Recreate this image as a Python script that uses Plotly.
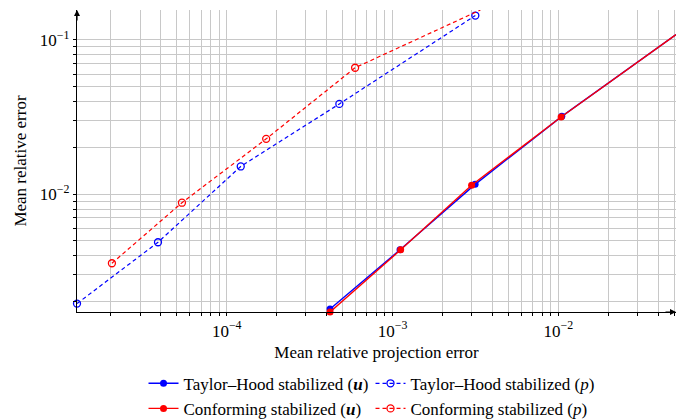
import plotly.graph_objects as go
import numpy as np

# Data (log-log)
th_u_x = [4.2e-4, 1.11e-3, 3.15e-3, 1.05e-2, 5.13e-2]
th_u_y = [1.80e-3, 4.35e-3, 1.156e-2, 3.19e-2, 0.108]
cf_u_x = [4.2e-4, 1.12e-3, 3.0e-3, 1.04e-2, 5.13e-2]
cf_u_y = [1.72e-3, 4.35e-3, 1.14e-2, 3.16e-2, 0.108]
th_p_x = [1.25e-5, 3.85e-5, 1.215e-4, 4.78e-4, 3.16e-3]
th_p_y = [1.95e-3, 4.87e-3, 1.51e-2, 3.84e-2, 0.1436]
cf_p_x = [2.03e-5, 5.37e-5, 1.73e-4, 5.95e-4, 3.39e-3]
cf_p_y = [3.56e-3, 8.79e-3, 2.28e-2, 6.59e-2, 0.156]

names = ["Taylor–Hood stabilized (<b><i>u</i></b>)",
         "Taylor–Hood stabilized (<i>p</i>)",
         "Conforming stabilized (<b><i>u</i></b>)",
         "Conforming stabilized (<i>p</i>)"]

x_major = [1e-4, 1e-3, 1e-2]
x_major_text = ["10<sup>−4</sup>", "10<sup>−3</sup>", "10<sup>−2</sup>"]
y_major = [1e-2, 1e-1]
y_major_text = ["10<sup>−2</sup>", "10<sup>−1</sup>"]

FONT = "Liberation Serif"
GRID = "#c8c8c8"

fig = go.Figure()
fig.add_trace(go.Scatter(x=th_u_x, y=th_u_y, name=names[0], mode="lines+markers",
                         line=dict(color="#0000ff", width=1.4),
                         marker=dict(symbol="circle", size=7, color="#0000ff"),
                         cliponaxis=False))
fig.add_trace(go.Scatter(x=th_p_x, y=th_p_y, name=names[1], mode="lines+markers",
                         line=dict(color="#0000ff", width=1.2, dash="4px,3px"),
                         marker=dict(symbol="circle-open", size=7, color="#0000ff",
                                     line=dict(width=1.3)),
                         cliponaxis=False))
fig.add_trace(go.Scatter(x=cf_u_x, y=cf_u_y, name=names[2], mode="lines+markers",
                         line=dict(color="#ff0000", width=1.4),
                         marker=dict(symbol="circle", size=7, color="#ff0000"),
                         cliponaxis=False))
fig.add_trace(go.Scatter(x=cf_p_x, y=cf_p_y, name=names[3], mode="lines+markers",
                         line=dict(color="#ff0000", width=1.2, dash="4px,3px"),
                         marker=dict(symbol="circle-open", size=7, color="#ff0000",
                                     line=dict(width=1.3)),
                         cliponaxis=False))

all_x = th_u_x + cf_u_x + th_p_x + cf_p_x
all_y = th_u_y + cf_u_y + th_p_y + cf_p_y
xr = [np.log10(min(all_x)), np.log10(max(all_x))]
yr = [np.log10(min(all_y)), np.log10(max(all_y))]

def minor_vals(lo, hi):
    vals = []
    for d in range(int(np.floor(lo)) - 1, int(np.ceil(hi)) + 1):
        for m in range(2, 10):
            v = m * 10.0 ** d
            if 10 ** lo <= v <= 10 ** hi:
                vals.append(v)
    return vals

fig.update_xaxes(type="log", range=xr, showline=True, linecolor="black", linewidth=1.2,
                 tickvals=x_major, ticktext=x_major_text, ticks="outside", ticklen=3,
                 tickcolor="black", showgrid=True, gridcolor=GRID, gridwidth=1,
                 zeroline=False, mirror=False, automargin=False,
                 tickfont=dict(family=FONT, size=17, color="black"),
                 minor=dict(tickvals=minor_vals(*xr), ticks="outside", ticklen=3,
                            tickcolor="black", showgrid=True, gridcolor=GRID, gridwidth=1),
                 title=dict(text="Mean relative projection error",
                            font=dict(family=FONT, size=17, color="black"), standoff=6))
fig.update_yaxes(type="log", range=yr, showline=True, linecolor="black", linewidth=1.2,
                 tickvals=y_major, ticktext=y_major_text, ticks="outside", ticklen=3,
                 tickcolor="black", showgrid=True, gridcolor=GRID, gridwidth=1,
                 zeroline=False, mirror=False, automargin=False,
                 tickfont=dict(family=FONT, size=17, color="black"),
                 minor=dict(tickvals=minor_vals(*yr), ticks="outside", ticklen=3,
                            tickcolor="black", showgrid=True, gridcolor=GRID, gridwidth=1),
                 title=dict(text="Mean relative error",
                            font=dict(family=FONT, size=17, color="black"), standoff=8))

# axis arrows
fig.add_annotation(x=0, y=1.0, xref="paper", yref="paper", ax=0, ay=12,
                   showarrow=True, arrowhead=2, arrowsize=1, arrowwidth=1.2, arrowcolor="black", text="")
fig.add_annotation(x=1.0, y=0, xref="paper", yref="paper", ax=-12, ay=0,
                   showarrow=True, arrowhead=2, arrowsize=1, arrowwidth=1.2, arrowcolor="black", text="")

fig.update_layout(
    width=677, height=419,
    margin=dict(l=77, r=1, t=10, b=107, autoexpand=False),
    plot_bgcolor="white", paper_bgcolor="white",
    font=dict(family=FONT, size=17, color="black"),
    legend=dict(orientation="h", x=0.49, xanchor="center", y=-0.178, yanchor="top",
                font=dict(family=FONT, size=17, color="black"),
                entrywidth=182, entrywidthmode="pixels", itemwidth=30,
                tracegroupgap=0, bgcolor="rgba(0,0,0,0)"),
)

fig.write_html("out.html")
